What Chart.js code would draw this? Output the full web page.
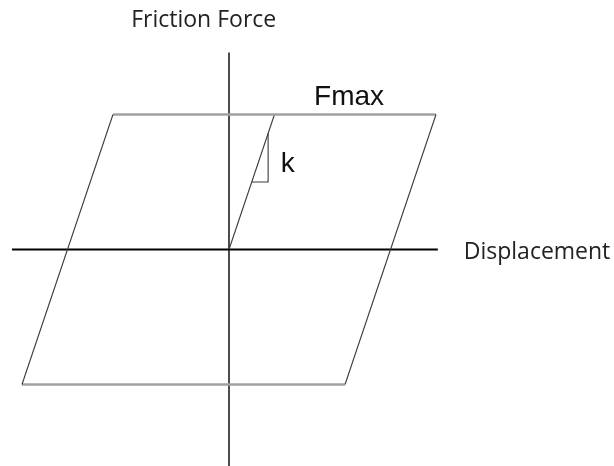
<!DOCTYPE html>
<html>
<head>
<meta charset="utf-8">
<script src="https://cdn.jsdelivr.net/npm/chart.js@4/dist/chart.umd.min.js"></script>
<style>
  html, body { margin: 0; padding: 0; background: #fff; }
  canvas { display: block; }
</style>
</head>
<body>
<canvas id="loop" width="614" height="466"></canvas>
<script>
// friction force vs displacement (Fmax = 1, yield displacement = 1)
const loopX = [-2.55, 4.55, 2.55, -4.55, -2.55];
const loopY = [1, 1, -1, -1, 1];

// initial loading branch, slope k
const branchX = [0, 1];
const branchY = [0, 1];

// little slope triangle
const triX = [0.5, 0.86, 0.86];
const triY = [0.5, 0.5, 0.86];

// axis lines
const axisX = [-4.77, 4.59];
const axisY = [1.46, -1.61];

const labels = [
  {text: 'Friction Force', x: -2.15, y: 1.648, font: '23px "Open Sans"', color: '#222'},
  {text: 'Displacement', x: 5.16, y: -0.07, font: '23px "Open Sans"', color: '#222'},
  {text: 'Fmax', x: 1.87, y: 1.07, font: '28px "Liberation Sans"', color: '#111'},
  {text: 'k', x: 1.14, y: 0.574, font: '28px "Liberation Sans"', color: '#111'}
];

const pts = (xs, ys) => xs.map((x, i) => ({x: x, y: ys[i]}));

// text drawn at data positions
const textPlugin = {
  id: 'texts',
  afterDatasetsDraw(chart) {
    const ctx = chart.ctx;
    const sx = chart.scales.x, sy = chart.scales.y;
    ctx.save();
    ctx.textBaseline = 'alphabetic';
    ctx.textAlign = 'left';
    labels.forEach(l => {
      ctx.font = l.font;
      ctx.fillStyle = l.color;
      ctx.fillText(l.text, sx.getPixelForValue(l.x), sy.getPixelForValue(l.y));
    });
    ctx.restore();
  }
};

const thin = {showLine: true, pointRadius: 0, borderColor: '#3a3a3a', borderWidth: 1.1, fill: false};

new Chart(document.getElementById('loop'), {
  type: 'scatter',
  data: {
    datasets: [
      {
        data: pts(loopX, loopY),
        showLine: true, pointRadius: 0, fill: false,
        borderColor: '#3a3a3a', borderWidth: 1.1,
        segment: {
          // flat edges (sliding at Fmax) are drawn gray and thicker
          borderColor: c => c.p0.parsed.y === c.p1.parsed.y ? '#a0a0a0' : '#3a3a3a',
          borderWidth: c => c.p0.parsed.y === c.p1.parsed.y ? 2.4 : 1.1
        }
      },
      Object.assign({data: pts(branchX, branchY)}, thin),
      Object.assign({data: pts(triX, triY)}, thin),
      {data: pts(axisX, [0, 0]), showLine: true, pointRadius: 0, borderColor: '#000', borderWidth: 2},
      {data: pts([0, 0], axisY), showLine: true, pointRadius: 0, borderColor: '#000', borderWidth: 1.4}
    ]
  },
  options: {
    responsive: false,
    animation: false,
    layout: {padding: 0},
    plugins: {legend: {display: false}, tooltip: {enabled: false}},
    scales: {
      x: {type: 'linear', display: false, min: -5.033, max: 8.462},
      y: {type: 'linear', display: false, min: -1.604, max: 1.848}
    }
  },
  plugins: [textPlugin]
});
</script>
</body>
</html>
